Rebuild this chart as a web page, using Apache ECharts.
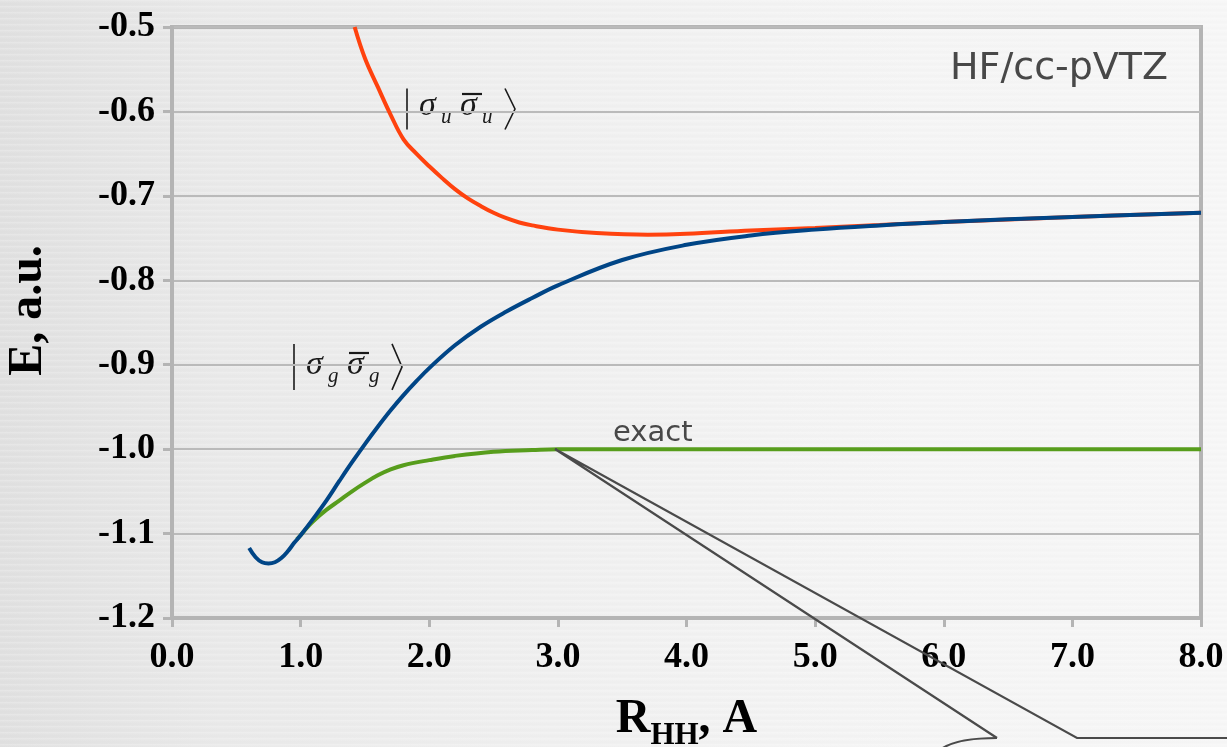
<!DOCTYPE html>
<html>
<head>
<meta charset="utf-8">
<script src="https://cdn.jsdelivr.net/npm/echarts@6/dist/echarts.min.js"></script>
<style>
  html, body { margin: 0; padding: 0; width: 1227px; height: 747px; overflow: hidden; }
  body {
    background:
      repeating-linear-gradient(to bottom, rgba(255,255,255,0.22) 0px, rgba(255,255,255,0) 2px, rgba(0,0,0,0.012) 4px, rgba(255,255,255,0) 6px),
      linear-gradient(to right, #e1e1e1 0%, #eaeaea 18%, #f0f0f0 45%, #f5f5f5 75%, #f7f7f7 100%);
  }
  #chart { width: 1227px; height: 747px; }
</style>
</head>
<body>
<div id="chart"></div>
<script>
// H2 potential energy curves, E in hartree vs R(H-H) in angstrom

// |sigma_u sigma_u-bar> determinant
const rSigmaU = [1.42, 1.50, 1.60, 1.70, 1.80, 1.90, 2.00, 2.10, 2.20, 2.30, 2.40, 2.50, 2.60, 2.70, 2.80, 3.00, 3.30, 3.70, 4.00, 4.50, 5.00, 5.50, 6.00, 7.00, 8.00];
const eSigmaU = [-0.500, -0.537, -0.571, -0.604, -0.633, -0.650, -0.665, -0.679, -0.692, -0.703, -0.712, -0.720, -0.7265, -0.7315, -0.735, -0.740, -0.744, -0.746, -0.745, -0.741, -0.738, -0.7345, -0.731, -0.725, -0.720];

// |sigma_g sigma_g-bar> determinant (RHF)
const rSigmaG = [0.60, 0.65, 0.70, 0.75, 0.80, 0.85, 0.90, 0.95, 1.00, 1.10, 1.20, 1.30, 1.40, 1.50, 1.60, 1.70, 1.80, 1.90, 2.00, 2.20, 2.40, 2.60, 2.80, 3.00, 3.50, 4.00, 4.50, 5.00, 5.50, 6.00, 7.00, 8.00];
const eSigmaG = [-1.117, -1.128, -1.134, -1.1355, -1.134, -1.129, -1.121, -1.111, -1.102, -1.082, -1.061, -1.038, -1.0155, -0.994, -0.9735, -0.954, -0.936, -0.9195, -0.904, -0.877, -0.855, -0.837, -0.821, -0.806, -0.776, -0.758, -0.747, -0.740, -0.735, -0.731, -0.725, -0.720];

// exact energy
const rExact = [0.97, 1.00, 1.05, 1.10, 1.20, 1.30, 1.40, 1.50, 1.60, 1.70, 1.80, 2.00, 2.20, 2.50, 2.80, 3.00, 4.00, 5.00, 6.00, 7.00, 8.00];
const eExact = [-1.107, -1.102, -1.093, -1.085, -1.072, -1.061, -1.050, -1.040, -1.031, -1.024, -1.019, -1.013, -1.008, -1.003, -1.001, -1.000, -1.000, -1.000, -1.000, -1.000, -1.000];

// axis ranges
const xMin = 0, xMax = 8, xStep = 1;
const yMin = -1.2, yMax = -0.5, yStep = 0.1;

const pairs = (xs, ys) => xs.map((x, i) => [x, ys[i]]);

const serif = '"Liberation Serif", "Times New Roman", serif';
const gridGray = '#b4b4b4';

const chart = echarts.init(document.getElementById('chart'), null, { renderer: 'canvas' });

// Dirac ket label |sigma_x sigma-bar_x>, drawn from text pieces and strokes
function ketLabel(x0, yBase, sub, h) {
  const ink = '#1a1a1a';
  const big = 'italic 34px ' + serif;
  const small = 'italic 21px ' + serif;
  return {
    type: 'group', z: 50,
    children: [
      { type: 'line', shape: { x1: x0, y1: yBase - h * 0.72, x2: x0, y2: yBase + h * 0.28 }, style: { stroke: ink, lineWidth: 1.6 } },
      { type: 'text', x: x0 + 12, y: yBase - 11.5, style: { text: 'σ', font: big, fill: ink, verticalAlign: 'middle' } },
      { type: 'text', x: x0 + 34, y: yBase - 0.5, style: { text: sub, font: small, fill: ink, verticalAlign: 'middle' } },
      { type: 'text', x: x0 + 53, y: yBase - 11.5, style: { text: 'σ', font: big, fill: ink, verticalAlign: 'middle' } },
      { type: 'line', shape: { x1: x0 + 55, y1: yBase - 24, x2: x0 + 75, y2: yBase - 24 }, style: { stroke: ink, lineWidth: 2.2 } },
      { type: 'text', x: x0 + 75, y: yBase - 0.5, style: { text: sub, font: small, fill: ink, verticalAlign: 'middle' } },
      { type: 'polyline', shape: { points: [[x0 + 98, yBase - h * 0.72], [x0 + 108, yBase - h * 0.22], [x0 + 98, yBase + h * 0.28]] }, style: { stroke: ink, lineWidth: 1.6, fill: null } }
    ]
  };
}

const calloutInk = '#4a4a4a';

const option = {
  animation: false,
  backgroundColor: 'transparent',
  grid: {
    left: 172, top: 27, width: 1029, height: 591,
    outerBoundsMode: 'none', containLabel: false,
    show: true, borderColor: gridGray, borderWidth: 4, backgroundColor: 'transparent'
  },
  xAxis: {
    type: 'value', min: xMin, max: xMax, interval: xStep,
    axisLine: { show: true, onZero: false, lineStyle: { color: gridGray, width: 4 } },
    axisTick: { show: true, inside: false, length: 9, lineStyle: { color: gridGray, width: 3 } },
    splitLine: { show: false },
    axisLabel: {
      margin: 22, formatter: v => v.toFixed(1),
      fontFamily: serif, fontWeight: 'bold', fontSize: 36, color: '#000'
    },
    name: '{a|R}{b|HH}{a|, A}',
    nameLocation: 'middle', nameGap: 78,
    nameTextStyle: {
      rich: {
        a: { fontFamily: serif, fontWeight: 'bold', fontSize: 48, color: '#000', verticalAlign: 'top' },
        b: { fontFamily: serif, fontWeight: 'bold', fontSize: 31, color: '#000', verticalAlign: 'top', padding: [24, 0, 0, 0] }
      }
    }
  },
  yAxis: {
    type: 'value', min: yMin, max: yMax, interval: yStep,
    axisLine: { show: true, onZero: false, lineStyle: { color: gridGray, width: 4 } },
    axisTick: { show: true, inside: false, length: 9, lineStyle: { color: gridGray, width: 3 } },
    splitLine: { show: true, lineStyle: { color: '#bababa', width: 2 } },
    axisLabel: {
      margin: 17, formatter: v => v.toFixed(1),
      fontFamily: serif, fontWeight: 'bold', fontSize: 36, color: '#000'
    },
    name: 'E, a.u.',
    nameLocation: 'middle', nameRotate: 90, nameGap: 119,
    nameTextStyle: { fontFamily: serif, fontWeight: 'bold', fontSize: 48, color: '#000', padding: [0, 0, 0, 24] }
  },
  series: [
    {
      name: 'sigma_u', type: 'line', data: pairs(rSigmaU, eSigmaU),
      showSymbol: false, smooth: 0.4, clip: true,
      lineStyle: { color: '#ff420e', width: 4 }, z: 3
    },
    {
      name: 'exact', type: 'line', data: pairs(rExact, eExact),
      showSymbol: false, smooth: 0.4, clip: true,
      lineStyle: { color: '#579d1c', width: 4 }, z: 4
    },
    {
      name: 'sigma_g', type: 'line', data: pairs(rSigmaG, eSigmaG),
      showSymbol: false, smooth: 0.4, clip: true,
      lineStyle: { color: '#004586', width: 4 }, z: 5
    }
  ],
  graphic: [
    { type: 'text', x: 950, y: 69, z: 50, style: { text: 'HF/cc-pVTZ', font: '38px "DejaVu Sans", sans-serif', fill: '#484848', verticalAlign: 'middle' } },
    { type: 'text', x: 613, y: 433, z: 50, style: { text: 'exact', font: '29px "DejaVu Sans", sans-serif', fill: '#484848', verticalAlign: 'middle' } },
    ketLabel(294, 377, 'g', 46),
    ketLabel(407, 118, 'u', 41),
    // callout pointer and the top edge of its bubble
    {
      type: 'polyline', z: 60,
      shape: { points: [[997, 738], [555, 449], [1077, 738], [1230, 738]] },
      style: { stroke: calloutInk, lineWidth: 2.2, fill: null, lineJoin: 'miter' }
    },
    {
      type: 'bezierCurve', z: 60,
      shape: { x1: 997, y1: 738, cpx1: 970, cpy1: 738, cpx2: 950, cpy2: 742, x2: 940, y2: 750 },
      style: { stroke: calloutInk, lineWidth: 2.2, fill: null }
    }
  ]
};

chart.setOption(option);
</script>
</body>
</html>
